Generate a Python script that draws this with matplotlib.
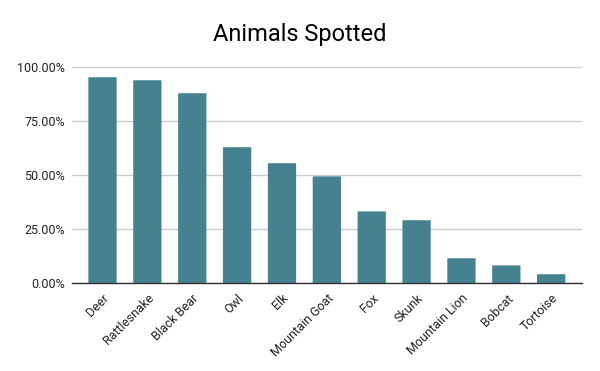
import matplotlib
matplotlib.use("Agg")
import matplotlib.pyplot as plt
from matplotlib.ticker import FuncFormatter, FixedLocator
from matplotlib.patches import FancyBboxPatch

plt.rcParams['font.family'] = ['Roboto', 'DejaVu Sans']

categories = ["Deer", "Rattlesnake", "Black Bear", "Owl", "Elk", "Mountain Goat",
              "Fox", "Skunk", "Mountain Lion", "Bobcat", "Tortoise"]
values = [0.954, 0.940, 0.880, 0.630, 0.556, 0.495, 0.333, 0.292, 0.116, 0.083, 0.042]
yticks = [0.0, 0.25, 0.5, 0.75, 1.0]

fig = plt.figure(figsize=(6, 3.71), dpi=100)
ax = fig.add_axes([0.12, 0.2364, 0.8495, 0.5822])

color = "#45818e"
bars = ax.bar(range(len(categories)), values, width=0.63, color=color, zorder=3)
# rounded top corners approximation
for b in bars:
    b.set_visible(False)
    x, y = b.get_x(), b.get_y()
    w, h = b.get_width(), b.get_height()
    p = FancyBboxPatch((x, y), w, h, boxstyle="round,pad=0,rounding_size=0.06",
                       mutation_aspect=0.012, facecolor=color, edgecolor='none', zorder=3)
    ax.add_patch(p)

ax.set_xlim(-0.68, 10.68)
ax.set_ylim(0, 1.0)
ax.yaxis.set_major_locator(FixedLocator(yticks))
ax.yaxis.set_major_formatter(FuncFormatter(lambda v, p: f"{v*100:.2f}%"))
ax.grid(axis='y', color='#cccccc', linewidth=1, zorder=0)
ax.set_xticks(range(len(categories)))
ax.set_xticklabels(categories, rotation=45, ha='right', rotation_mode='anchor', fontsize=9)
ax.tick_params(axis='both', length=0, labelsize=9, colors='#222222')
ax.tick_params(axis='x', pad=6)
ax.tick_params(axis='y', pad=5)
for s in ['top', 'right', 'left']:
    ax.spines[s].set_visible(False)
ax.spines['bottom'].set_color('#333333')
ax.spines['bottom'].set_linewidth(1)
ax.spines['bottom'].set_zorder(4)

fig.text(0.5, 0.908, "Animals Spotted", ha='center', va='center', fontsize=17, color='#000000')

fig.savefig("out.png", dpi=100, facecolor='white')
